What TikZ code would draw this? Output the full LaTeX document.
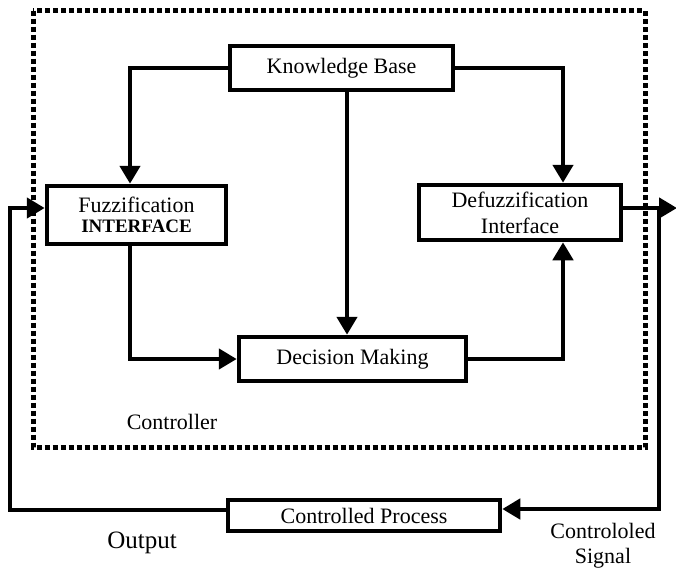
\documentclass[tikz,border=0pt]{standalone}
\usepackage{fontspec}
\setmainfont{Liberation Serif}
\usetikzlibrary{arrows.meta}
\begin{document}
\begin{tikzpicture}[x=1pt,y=-1pt,
  box/.style={draw, line width=4.5pt, inner sep=0pt, align=center, fill=white,
    font=\fontsize{22}{22}\selectfont},
  arr/.style={line width=4.5pt, -{Triangle[length=18pt,width=20pt]}},
  dotbox/.style={line width=5pt, dash pattern=on 5pt off 3pt},
  lbl/.style={inner sep=0pt, align=center, font=\fontsize{22}{25}\selectfont}]
\useasboundingbox (0,0) rectangle (676,571);
% controller boundary
\draw[dotbox] (33,10.5) rectangle (645,447);
% boxes
\node[box, minimum width=223pt, minimum height=44pt] (kb) at (341.5,68) {Knowledge Base};
\node[box, minimum width=179pt, minimum height=58pt, font=\fontsize{22}{20}\selectfont] (fuzz) at (136.5,215)
  {Fuzzification\\{\bfseries\fontsize{19}{20}\selectfont INTERFACE}};
\node[box, minimum width=202pt, minimum height=55pt, font=\fontsize{22}{26}\selectfont] (defuzz) at (520,212.5)
  {Defuzzification\\Interface};
\node[box, minimum width=227pt, minimum height=44pt] (dm) at (352.5,359) {Decision Making};
\node[box, minimum width=272pt, minimum height=31pt] (cp) at (364,515.5) {Controlled Process};
% labels
\node[lbl] (ctrl) at (172,422) {Controller};
\node[lbl, font=\fontsize{25}{25}\selectfont] (out) at (142,543) {Output};
\node[lbl] (sig) at (603,546) {Controloled\\Signal};
% coordinates
\coordinate (outend) at (677,208);
\coordinate (tap) at (659,208);
\coordinate (loopx) at (10,300);
% connectors
\draw[arr] (kb.west) -| ([xshift=-6.5pt]fuzz.north);
\draw[arr] (kb.east) -| ([xshift=43pt]defuzz.north);
\draw[arr] ([xshift=5.5pt]kb.south) -- ([xshift=5.5pt]kb.south |- dm.north);
\draw[arr] ([xshift=-6.5pt]fuzz.south) |- (dm.west);
\draw[arr] (dm.east) -| ([xshift=43pt]defuzz.south);
\draw[arr] ([yshift=4.5pt]defuzz.east) -- (outend);
\draw[arr] (tap) |- ([yshift=6.5pt]cp.east);
\draw[arr] ([yshift=5.5pt]cp.west) -| (loopx) |- ([yshift=7pt]fuzz.west);
\end{tikzpicture}
\end{document}
